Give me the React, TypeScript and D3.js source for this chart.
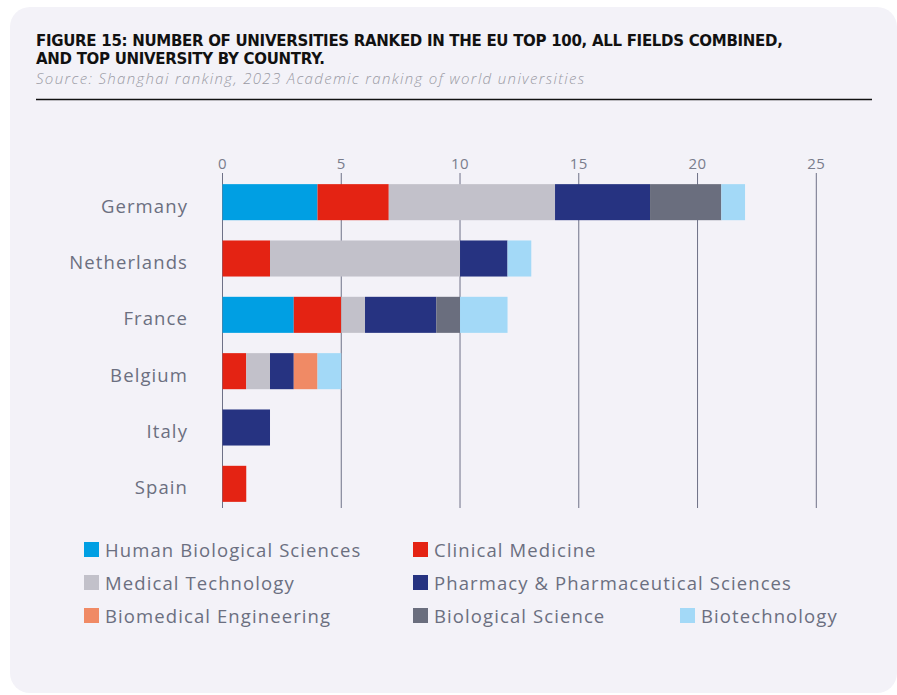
import React from "react";
import * as d3 from "d3";

const countries = ["Germany", "Netherlands", "France", "Belgium", "Italy", "Spain"];
const fields = [
  "Human Biological Sciences",
  "Clinical Medicine",
  "Medical Technology",
  "Pharmacy & Pharmaceutical Sciences",
  "Biomedical Engineering",
  "Biological Science",
  "Biotechnology",
];
const colors = ["#009fe3", "#e42313", "#c2c1ca", "#263381", "#f08a65", "#6a6e7e", "#a3d9f7"];
const humanBiological = [4, 0, 3, 0, 0, 0];
const clinicalMedicine = [3, 2, 2, 1, 0, 1];
const medicalTechnology = [7, 8, 1, 1, 0, 0];
const pharmacy = [4, 2, 3, 1, 2, 0];
const biomedicalEngineering = [0, 0, 0, 1, 0, 0];
const biologicalScience = [3, 0, 1, 0, 0, 0];
const biotechnology = [1, 1, 2, 1, 0, 0];
const xTicks = [0, 5, 10, 15, 20, 25];

const series = [humanBiological, clinicalMedicine, medicalTechnology, pharmacy, biomedicalEngineering, biologicalScience, biotechnology];

const W = 897;
const H = 695;
const gray = "#6b6f80";

// legend layout: [column x, row]
const legendPos: [number, number][] = [
  [84, 0], [413, 0], [84, 1], [413, 1], [84, 2], [413, 2], [680, 2],
];

export default function App() {
  const table = countries.map((c, i) => {
    const row: any = { country: c };
    fields.forEach((f, k) => (row[f] = series[k][i]));
    return row;
  });
  const stacked = d3.stack<any>().keys(fields)(table);
  const x = d3.scaleLinear().domain([0, 25]).range([222.5, 816.3]);
  const y = d3.scaleBand().domain(countries).range([174, 512]).paddingInner(0.36).paddingOuter(0.18);

  return (
    <div style={{ position: "absolute", left: 0, top: 0 }}>
      <svg width={W} height={H} style={{ display: "block" }}>
        <rect x={0} y={0} width={W} height={H} fill="#ffffff" />
        <rect x={10} y={7} width={887} height={686} rx={20} ry={20} fill="#f3f2f8" />
        <text x={36} y={46} fontFamily="DejaVu Sans" fontWeight={700} fontSize={15} fill="#111" letterSpacing={-0.3}>
          FIGURE 15: NUMBER OF UNIVERSITIES RANKED IN THE EU TOP 100, ALL FIELDS COMBINED,
        </text>
        <text x={36} y={63.5} fontFamily="DejaVu Sans" fontWeight={700} fontSize={15} fill="#111" letterSpacing={-0.3}>
          AND TOP UNIVERSITY BY COUNTRY.
        </text>
        <text x={36} y={84} fontFamily="Open Sans" fontStyle="italic" fontWeight={300} fontSize={15} fill="#9a9aa4" letterSpacing={1.35}>
          Source: Shanghai ranking, 2023 Academic ranking of world universities
        </text>
        <line x1={36} x2={872} y1={99.5} y2={99.5} stroke="#111" strokeWidth={1.5} />

        {xTicks.map((t) => (
          <g key={t}>
            <line x1={x(t)} x2={x(t)} y1={173} y2={508} stroke="#6e7187" strokeWidth={1} />
            <text x={x(t)} y={169} textAnchor="middle" fontFamily="Open Sans" fontSize={15} fill="#7a7d8c" letterSpacing={0.4}>
              {t}
            </text>
          </g>
        ))}

        {stacked.map((s, k) => (
          <g key={s.key} fill={colors[k]}>
            {s.map((d, i) =>
              d[1] - d[0] > 0 ? (
                <rect
                  key={i}
                  x={x(d[0])}
                  y={y(countries[i])!}
                  width={x(d[1]) - x(d[0])}
                  height={y.bandwidth()}
                />
              ) : null
            )}
          </g>
        ))}

        {countries.map((c) => (
          <text
            key={c}
            x={188}
            y={y(c)! + y.bandwidth() / 2 + 10.5}
            textAnchor="end"
            fontFamily="Open Sans"
            fontSize={18.5}
            fill={gray}
            letterSpacing={1.1}
          >
            {c}
          </text>
        ))}

        {fields.map((f, k) => {
          const [lx, row] = legendPos[k];
          const ly = 542 + row * 33;
          return (
            <g key={f}>
              <rect x={lx} y={ly} width={15} height={15} fill={colors[k]} />
              <text x={lx + 21} y={ly + 14.5} fontFamily="Open Sans" fontSize={18.5} fill={gray} letterSpacing={1.1}>
                {f}
              </text>
            </g>
          );
        })}
      </svg>
    </div>
  );
}
